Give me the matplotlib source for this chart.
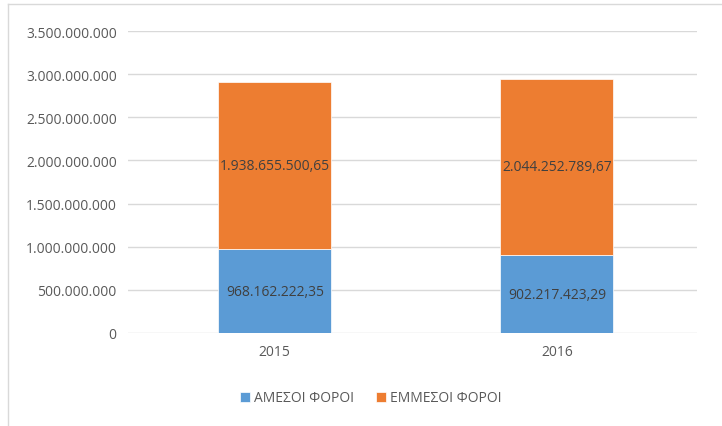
import numpy as np
import matplotlib.pyplot as plt
from matplotlib.lines import Line2D
from matplotlib.ticker import FuncFormatter

years = ['2015', '2016']
direct = [968162222.35, 902217423.29]
indirect = [1938655500.65, 2044252789.67]
series_names = ['ΑΜΕΣΟΙ ΦΟΡΟΙ', 'ΕΜΜΕΣΟΙ ΦΟΡΟΙ']


def gr_int(v, pos=None):
    return '{:,.0f}'.format(v).replace(',', '.')


def gr_dec(v):
    s = '{:,.2f}'.format(v)
    return s.replace(',', 'X').replace('.', ',').replace('X', '.')


plt.rcParams['font.family'] = ['Open Sans', 'DejaVu Sans']
fig = plt.figure(figsize=(7.22, 4.27), dpi=100)
ax = fig.add_axes([0.177, 0.218, 0.788, 0.707])

x = np.arange(len(years))
b1 = ax.bar(x, direct, width=0.4, color='#5B9BD5', label=series_names[0],
            edgecolor='white', linewidth=0.5, zorder=3)
b2 = ax.bar(x, indirect, width=0.4, bottom=direct, color='#ED7D31',
            label=series_names[1], edgecolor='white', linewidth=0.5, zorder=3)
ax.bar_label(b1, labels=[gr_dec(v) for v in direct], label_type='center',
             color='#404040', fontsize=10)
ax.bar_label(b2, labels=[gr_dec(v) for v in indirect], label_type='center',
             color='#404040', fontsize=10)

ax.set_ylim(0, 3.5e9)
ax.set_yticks(np.arange(0, 3.5e9 + 1, 5e8))
ax.yaxis.set_major_formatter(FuncFormatter(gr_int))
ax.set_xlim(-0.521, 1.496)
ax.set_xticks(x)
ax.set_xticklabels(years)
ax.tick_params(length=0, labelsize=10, labelcolor='#595959', pad=8)
ax.grid(axis='y', color='#D9D9D9', linewidth=1, zorder=0)
for s in ax.spines.values():
    s.set_visible(False)

fig.legend(loc='center', bbox_to_anchor=(371 / 722, 1 - 399 / 427), ncol=2,
           frameon=False, fontsize=10, labelcolor='#595959', handlelength=0.7,
           handleheight=0.7, columnspacing=1.6, handletextpad=0.3)

# outer frame (left and top edges visible)
fig.add_artist(Line2D([8 / 722, 8 / 722], [0, 1 - 5 / 427], color='#D9D9D9', lw=1))
fig.add_artist(Line2D([8 / 722, 1], [1 - 5 / 427, 1 - 5 / 427], color='#D9D9D9', lw=1))

fig.savefig('out.png', dpi=100)
